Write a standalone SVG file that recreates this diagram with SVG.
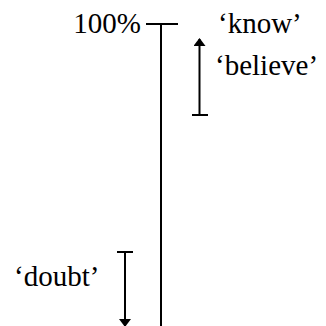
<svg xmlns="http://www.w3.org/2000/svg" width="326" height="326" viewBox="0 0 326 326">
<style>
text{font-family:"Liberation Serif","Times New Roman",serif;font-size:29px;fill:#000}
.ln{stroke:#000;stroke-width:2;fill:none}
</style>
<defs>
<marker id="ah" markerWidth="8" markerHeight="12" refX="7" refY="6" orient="auto" markerUnits="userSpaceOnUse">
<path d="M0,0 L8,6 L0,12 Z" fill="#000"/>
</marker>
</defs>
<rect width="326" height="326" fill="#fff"/>
<g id="connectors">
<line class="ln" x1="161" y1="24" x2="161" y2="326"/>
<line class="ln" x1="146" y1="24" x2="178" y2="24"/>
<line class="ln" x1="192" y1="115" x2="208" y2="115"/>
<line class="ln" x1="199.5" y1="115" x2="199.5" y2="39" marker-end="url(#ah)"/>
<line class="ln" x1="117" y1="252" x2="133" y2="252"/>
<line class="ln" x1="125" y1="252" x2="125" y2="326" marker-end="url(#ah)"/>
</g>
<g id="label-100"><text x="141" y="33" text-anchor="end">100%</text></g>
<g id="label-know"><text x="218" y="33">‘know’</text></g>
<g id="label-believe"><text x="215" y="75">‘believe’</text></g>
<g id="label-doubt"><text x="14" y="286">‘doubt’</text></g>
</svg>
